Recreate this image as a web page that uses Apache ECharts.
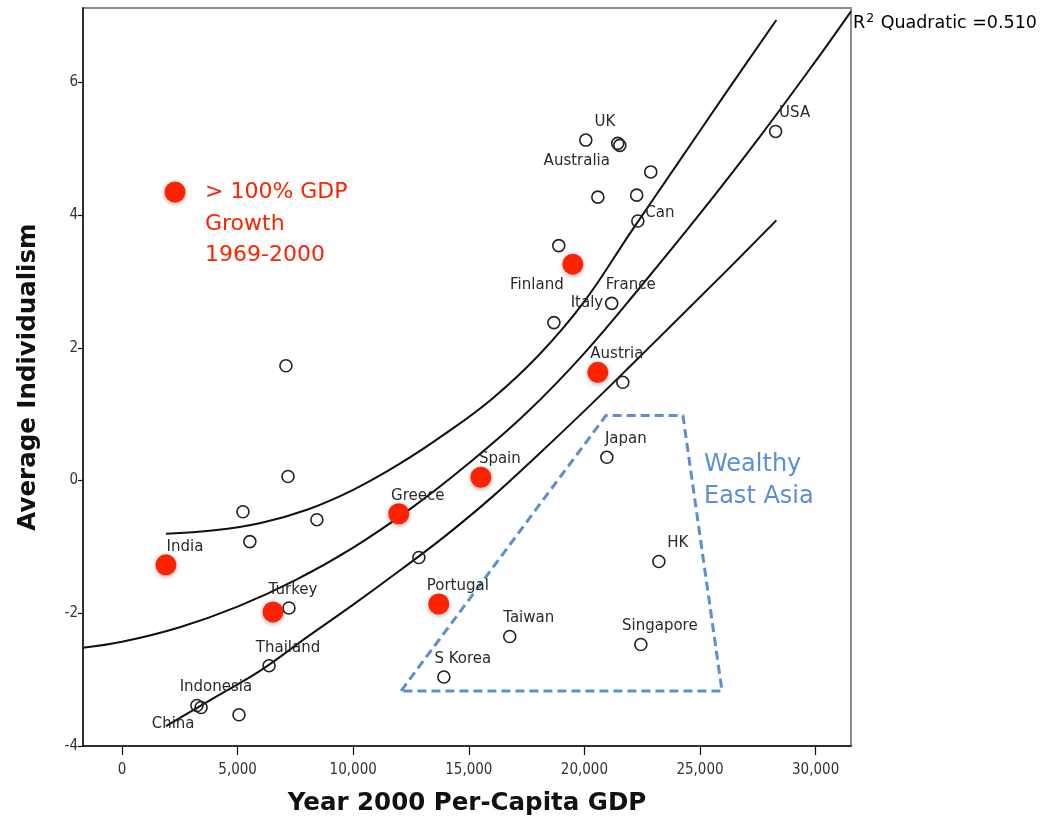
<!DOCTYPE html>
<html>
<head>
<meta charset="utf-8">
<script src="https://cdn.jsdelivr.net/npm/echarts@6/dist/echarts.min.js"></script>
<style>
  html, body { margin: 0; padding: 0; background: #fff; }
  #chart { width: 1041px; height: 825px; }
</style>
</head>
<body>
<div id="chart"></div>
<script>
// Countries with GDP growth of 100% or less, 1969-2000 (hollow markers)
const otherNames = ['USA', 'UK', '', 'Australia', '', '', '', 'Can', '', 'France', 'Italy', '', '', '',
  'Japan', '', '', '', '', 'HK', '', 'Taiwan', 'Singapore', 'Thailand', 'S Korea', 'Indonesia', 'China', ''];
const otherGdp = [28270, 20060, 21440, 21530, 22870, 20580, 22260, 22310, 18890, 21180, 18680, 21660, 7090, 7180,
  20970, 5230, 8430, 5530, 12840, 23220, 7220, 16770, 22440, 6360, 13920, 3240, 3420, 5060];
const otherIndiv = [5.26, 5.13, 5.08, 5.05, 4.65, 4.27, 4.30, 3.91, 3.54, 2.67, 2.38, 1.48, 1.73, 0.06,
  0.35, -0.47, -0.59, -0.92, -1.16, -1.22, -1.92, -2.35, -2.47, -2.79, -2.96, -3.39, -3.42, -3.53];

// Countries with more than 100% GDP growth, 1969-2000 (red markers)
const fastNames = ['India', 'Turkey', 'Greece', 'Portugal', 'Spain', 'Finland', 'Austria'];
const fastGdp = [1900, 6530, 11970, 13700, 15520, 19500, 20580];
const fastIndiv = [-1.27, -1.98, -0.50, -1.86, 0.05, 3.26, 1.63];

// Quadratic fit line
const fitGdp = [-1687, 0, 2500, 5000, 7500, 10000, 12500, 15000, 17500, 20000, 22500, 25000, 27500, 30000, 31530];
const fitIndiv = [-2.52, -2.43, -2.21, -1.90, -1.50, -1.01, -0.42, 0.26, 1.02, 1.92, 2.95, 4.02, 5.14, 6.32, 7.07];

// Confidence band around the fit
const upperGdp = [1900, 4000, 6000, 8000, 10000, 12000, 14000, 16000, 18000, 20000, 22000, 24000, 26000, 28300];
const upperIndiv = [-0.80, -0.75, -0.64, -0.44, -0.14, 0.25, 0.71, 1.23, 1.88, 2.70, 3.74, 4.76, 5.78, 6.94];
const lowerGdp = [1900, 4000, 6000, 8000, 10000, 12000, 14000, 16000, 18000, 20000, 22000, 24000, 26000, 28300];
const lowerIndiv = [-3.70, -3.27, -2.86, -2.36, -1.87, -1.36, -0.83, -0.25, 0.39, 1.05, 1.73, 2.42, 3.11, 3.92];

// Outline around the wealthy East Asian economies
const asiaGdp = [12070, 20930, 24260, 25950, 12070];
const asiaIndiv = [-3.17, 0.98, 0.98, -3.17, -3.17];

// Tick values
const xTicks = [0, 5000, 10000, 15000, 20000, 25000, 30000];
const yTicks = [-4, -2, 0, 2, 4, 6];

// Label placement (centre of text relative to the marker, px)
const defaultLabelOffset = [19, -18];
const labelOffsets = {
  'Australia': [-43, 16],
  'Can': [22, -8],
  'Finland': [-36, 21],
  'Italy': [33, -19],
  'China': [-28, 17],
  'Turkey': [20, -22]
};

const labelFont = { fontFamily: 'DejaVu Sans', fontSize: 15, color: '#2a2a2a' };

function points(names, xs, ys) {
  return xs.map((x, i) => ({
    name: names[i],
    value: [x, ys[i]],
    label: { offset: labelOffsets[names[i]] || defaultLabelOffset }
  }));
}
function pairs(xs, ys) {
  return xs.map((x, i) => [x, ys[i]]);
}

const chart = echarts.init(document.getElementById('chart'), null, { renderer: 'canvas' });

const curveStyle = { color: '#111', width: 2 };
const titleFont = { fontFamily: 'DejaVu Sans', fontWeight: 'bold', fontSize: 24.5, color: '#111' };

chart.setOption({
  animation: false,
  backgroundColor: '#fff',
  grid: {
    left: 83, right: 190, top: 8, bottom: 79,
    show: true, borderColor: '#8c8c8c', borderWidth: 2, backgroundColor: 'transparent'
  },
  xAxis: {
    type: 'value',
    min: -1687, max: 31530,
    name: 'Year 2000 Per-Capita GDP',
    nameLocation: 'middle',
    nameGap: 45,
    nameTextStyle: titleFont,
    splitLine: { show: false },
    axisLine: { show: true, onZero: false, lineStyle: { color: '#111', width: 1.5 } },
    axisTick: { show: true, length: 9, customValues: xTicks, lineStyle: { color: '#111', width: 1.2 } },
    axisLabel: {
      customValues: xTicks,
      margin: 17,
      fontFamily: 'DejaVu Sans Condensed', fontSize: 15, color: '#333',
      formatter: v => v.toLocaleString('en-US')
    }
  },
  yAxis: {
    type: 'value',
    min: -4, max: 7.12,
    name: 'Average Individualism',
    nameLocation: 'middle',
    nameRotate: 90,
    nameGap: 42,
    nameTextStyle: titleFont,
    splitLine: { show: false },
    axisLine: { show: true, onZero: false, lineStyle: { color: '#111', width: 1.5 } },
    axisTick: { show: true, length: 5, customValues: yTicks, lineStyle: { color: '#111', width: 1.2 } },
    axisLabel: {
      customValues: yTicks,
      margin: 5,
      fontFamily: 'DejaVu Sans Condensed', fontSize: 15, color: '#333'
    }
  },
  series: [
    {
      type: 'line', name: 'Fit', data: pairs(fitGdp, fitIndiv),
      smooth: 0.4, showSymbol: false, lineStyle: curveStyle, z: 2, silent: true
    },
    {
      type: 'line', name: 'Upper', data: pairs(upperGdp, upperIndiv),
      smooth: 0.4, showSymbol: false, lineStyle: curveStyle, z: 2, silent: true
    },
    {
      type: 'line', name: 'Lower', data: pairs(lowerGdp, lowerIndiv),
      smooth: 0.4, showSymbol: false, lineStyle: curveStyle, z: 2, silent: true
    },
    {
      type: 'line', name: 'Wealthy East Asia', data: pairs(asiaGdp, asiaIndiv),
      showSymbol: false, z: 2, silent: true,
      lineStyle: { color: '#5b8fcf', width: 3, type: [9, 5] }
    },
    {
      type: 'scatter', name: 'Other',
      data: points(otherNames, otherGdp, otherIndiv),
      symbol: 'circle', symbolSize: 12, z: 3,
      itemStyle: { color: 'rgba(255,255,255,0)', borderColor: '#222', borderWidth: 1.6, opacity: 1 },
      label: Object.assign({ show: true, position: 'inside', formatter: p => p.name }, labelFont)
    },
    {
      type: 'scatter', name: '> 100% GDP Growth 1969-2000',
      data: points(fastNames, fastGdp, fastIndiv),
      symbol: 'circle', symbolSize: 21, z: 4,
      itemStyle: { color: '#ff2200', opacity: 1, shadowBlur: 4, shadowColor: 'rgba(0,0,0,0.35)', shadowOffsetY: 1.5 },
      label: Object.assign({ show: true, position: 'inside', formatter: p => p.name }, labelFont)
    }
  ],
  graphic: [
    {
      type: 'circle', shape: { cx: 175, cy: 192, r: 10.5 },
      style: { fill: '#ff2200', shadowBlur: 4, shadowColor: 'rgba(0,0,0,0.35)', shadowOffsetY: 1.5 }
    },
    {
      type: 'text', left: 205, top: 177,
      style: {
        text: '> 100% GDP\nGrowth\n1969-2000',
        fontFamily: 'DejaVu Sans', fontSize: 22, lineHeight: 31.5, fill: '#ff2200'
      }
    },
    {
      type: 'text', left: 704, top: 449,
      style: {
        text: 'Wealthy\nEast Asia',
        fontFamily: 'DejaVu Sans', fontSize: 24, lineHeight: 32, fill: '#5b8fd6'
      }
    },
    {
      type: 'text', left: 853, top: 12,
      style: {
        text: '{r|R}{s|2}{r| Quadratic =0.510}',
        rich: {
          r: { fontFamily: 'DejaVu Sans', fontSize: 17.5, color: '#222', lineHeight: 22 },
          s: { fontFamily: 'DejaVu Sans', fontSize: 12.5, color: '#222', padding: [0, 1, 9, 1], lineHeight: 22 }
        }
      }
    }
  ]
});
</script>
</body>
</html>
